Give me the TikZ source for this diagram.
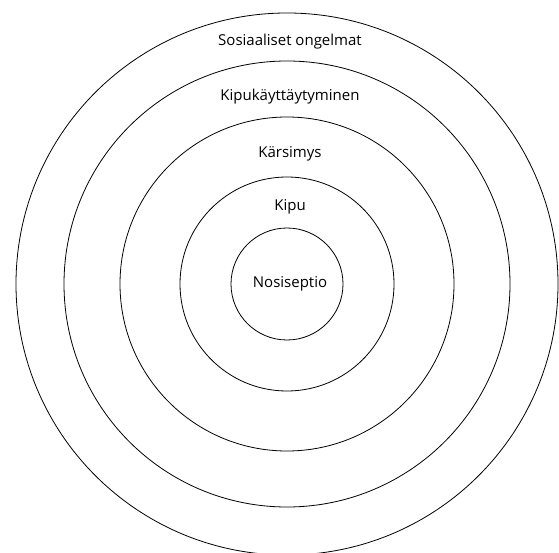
\documentclass[tikz,border=0pt]{standalone}
\usepackage{fontspec}
\setmainfont{Open Sans}

\begin{document}
\begin{tikzpicture}[
	x=1pt, y=1pt,
	ring/.style={ circle, draw, line width=0.8pt, inner sep=0pt },
	layer/.style={ inner sep=0pt, font=\fontsize{15}{17}\selectfont }
]

\useasboundingbox (0,0) rectangle (559,552);
\clip (0,0) rectangle (559,552);

\coordinate (o) at (287,268);
\node at (o) (sos) [ring,minimum size=542pt] {};
\node at (o) (kay) [ring,minimum size=446pt] {};
\node at (o) (kar) [ring,minimum size=334pt] {};
\node at (o) (kip) [ring,minimum size=214pt] {};
\node at (o) (nos) [ring,minimum size=112pt] {};

\node at (290,510) (tsos) [layer] {Sosiaaliset ongelmat};
\node at (290,455) (tkay) [layer] {Kipukäyttäytyminen};
\node at (290,398) (tkar) [layer] {Kärsimys};
\node at (290,345) (tkip) [layer] {Kipu};
\node at (290,268) (tnos) [layer] {Nosiseptio};

\end{tikzpicture}
\end{document}
